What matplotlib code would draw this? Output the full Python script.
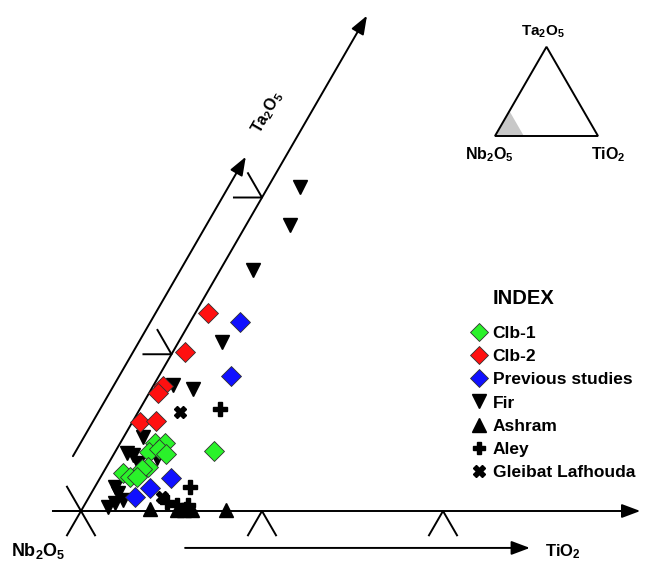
import numpy as np
import matplotlib
matplotlib.use('Agg')
import matplotlib.pyplot as plt
from matplotlib.patches import Polygon

plt.rcParams['font.family'] = 'Liberation Sans'
plt.rcParams['font.weight'] = 'bold'
plt.rcParams['mathtext.fontset'] = 'custom'
plt.rcParams['mathtext.rm'] = 'Liberation Sans:bold'
plt.rcParams['mathtext.default'] = 'rm'

# compositions, wt% of Ta2O5 and TiO2 (Nb2O5 is the remainder)
clb1_ta = [3.83, 4.34, 4.34, 3.76, 3.96, 3.64, 2.81, 2.68, 2.42, 2.17, 2.17]
clb1_ti = [5.43, 1.92, 2.47, 1.88, 2.33, 2.88, 2.30, 2.03, 1.11, 1.63, 2.01]
clb2_ta = [12.63, 10.14, 7.97, 7.53, 5.68, 5.74]
clb2_ti = [0.70, 0.68, 0.54, 0.49, 0.42, 1.27]
prev_ta = [12.06, 8.61, 2.11, 1.47, 0.89]
prev_ti = [2.75, 3.98, 3.92, 3.08, 2.53]
fir_ta = [20.67, 18.25, 15.37, 10.78, 7.78, 8.04, 4.72, 3.70, 3.57, 3.06, 3.38,
          1.53, 1.15, 0.26, 0.51, 0.70]
fir_ti = [1.77, 2.42, 1.82, 2.40, 2.30, 1.06, 1.07, 0.69, 1.08, 1.62, 2.51,
          1.11, 1.47, 1.36, 1.62, 1.97]
ashram_ta = [0.13, 0.05, 0.05, 0.05, 0.05]
ashram_ti = [3.75, 5.30, 5.64, 6.13, 7.96]
aley_ta = [6.51, 1.53, 0.57, 0.38, 0.38, 0.10]
aley_ti = [4.43, 5.25, 4.46, 5.11, 5.72, 5.75]
gleibat_ta = [6.32, 0.89]
gleibat_ti = [2.31, 4.03]

TICKS = [0, 10, 20]      # wt%
AXIS_MAX = 31.6          # extent of the drawn axes, wt%
SHADE = 0.28             # corner shown in the inset (fraction)

R3 = np.sqrt(3) / 2


def tern(ta, ti):
    ta = np.asarray(ta, float)
    ti = np.asarray(ti, float)
    return ti + ta / 2, ta * R3


def pt(ta, ti):
    x, y = tern(ta, ti)
    return float(x), float(y)


W, H = 653, 562
fig = plt.figure(figsize=(W / 100, H / 100), dpi=100)
ax = fig.add_axes([0, 0, 1, 1])
PX = 18.1                # pixels per wt%
X0, Y0 = 81, 511         # Nb2O5 corner in pixels
ax.set_xlim(-X0 / PX, (W - X0) / PX)
ax.set_ylim(-(H - Y0) / PX, Y0 / PX)
ax.axis('off')

LW = 1.4
arrow = dict(arrowstyle='-|>,head_length=0.8,head_width=0.3', color='k',
             lw=LW, mutation_scale=14, shrinkA=0, shrinkB=0)

# main axes
ax.annotate('', xy=pt(0, AXIS_MAX - 0.7), xytext=(-1.45, 0), arrowprops=arrow)
ax.annotate('', xy=pt(AXIS_MAX, 0), xytext=(0, 0), arrowprops=arrow)

# ternary ticks
L = 1.55
for t in TICKS:
    x, y = pt(t, 0)
    ax.plot([x - L, x, x - L / 2], [y, y, y + L * R3], color='k', lw=LW)
    x, y = pt(0, t)
    ax.plot([x - L / 2, x, x + L / 2], [y - L * R3, y, y - L * R3], color='k', lw=LW)

# direction arrows beside the axes
u = np.array([0.5, R3])
n = np.array([-R3, 0.5])
ax.annotate('', xy=tuple(21.5 * u + 1.9 * n), xytext=tuple(2.4 * u + 1.9 * n),
            arrowprops=arrow)
ax.annotate('', xy=(24.8, -2.04), xytext=(5.75, -2.04), arrowprops=arrow)

ax.text(-2.38, -2.2, r'Nb$_2$O$_5$', ha='center', va='center', fontsize=13)
ax.text(26.6, -2.25, r'TiO$_2$', ha='center', va='center', fontsize=12)
ax.text(10.3, 22.0, r'Ta$_2$O$_5$', ha='center', va='center', fontsize=11.5,
        rotation=60, rotation_mode='anchor')

# data
dia = dict(ls='none', marker='D', ms=10, mec='#303030', mew=0.6, zorder=4)
blk = dict(ls='none', color='k', zorder=3)
ax.plot(*tern(clb1_ta, clb1_ti), mfc='#2af22a', label='Clb-1', **dia)
ax.plot(*tern(clb2_ta, clb2_ti), mfc='#ff1010', label='Clb-2', **dia)
ax.plot(*tern(prev_ta, prev_ti), mfc='#1010ff', label='Previous studies', **dia)
ax.plot(*tern(fir_ta, fir_ti), marker='v', ms=10.5, label='Fir', **blk)
ax.plot(*tern(ashram_ta, ashram_ti), marker='^', ms=10.5, label='Ashram', **blk)
ax.plot(*tern(aley_ta, aley_ti), marker='P', ms=9.5, label='Aley', **blk)
ax.plot(*tern(gleibat_ta, gleibat_ti), marker='X', ms=9, label='Gleibat Lafhouda', **blk)

fig.text(523 / W, 1 - 298 / H, 'INDEX', ha='center', va='center', fontsize=14.5)
ax.legend(loc='upper left', bbox_to_anchor=(470 / W, 1 - 326 / H), frameon=False,
          fontsize=12.5, handlelength=1.0, handletextpad=0.3, labelspacing=0.46,
          borderpad=0, borderaxespad=0, numpoints=1, markerscale=0.95)

# inset triangle
ins = fig.add_axes([470 / W, 1 - 165 / H, 155 / W, 145 / H])
ins.set_xlim(-25 / 103, 130 / 103)
ins.set_ylim(-29 / 103, 116 / 103)
ins.axis('off')
ins.add_patch(Polygon([pt(0, 0), pt(0, SHADE), pt(SHADE, 0)], closed=True,
                      fc='#c8c8c8', ec='none'))
ins.add_patch(Polygon([pt(0, 0), pt(0, 1), pt(1, 0)], closed=True,
                      fc='none', ec='k', lw=LW))
ins.text(0.466, 1.01, r'Ta$_2$O$_5$', ha='center', va='center', fontsize=11)
ins.text(-0.05, -0.18, r'Nb$_2$O$_5$', ha='center', va='center', fontsize=11.5)
ins.text(1.10, -0.18, r'TiO$_2$', ha='center', va='center', fontsize=11.5)

fig.savefig('out.png', dpi=100)
